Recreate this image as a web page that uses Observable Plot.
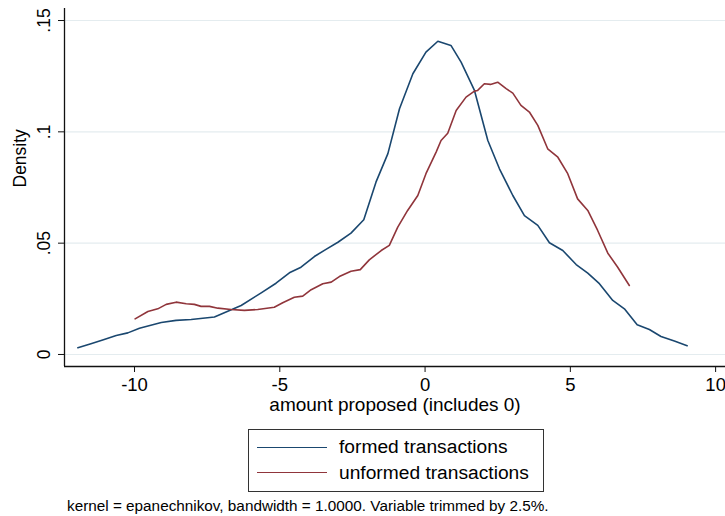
<!DOCTYPE html>
<html>
<head>
<meta charset="utf-8">
<script src="https://cdn.jsdelivr.net/npm/d3@7"></script>
<script src="https://cdn.jsdelivr.net/npm/@observablehq/plot@0.6"></script>
<style>
  body { margin: 0; background: #fff; font-family: "Liberation Sans", Arial, sans-serif; }
  #wrap { position: relative; width: 725px; height: 516px; overflow: hidden; }
  #chart svg { display: block; }
  .legend-box { position: absolute; box-sizing: border-box; border: 1px solid #333; background: #fff; }
  .legend-line { position: absolute; height: 0; border-top: 1.6px solid; }
  .legend-text { position: absolute; font-size: 19.2px; line-height: 1; color: #000; white-space: nowrap; }
  #caption { position: absolute; left: 67px; top: 498px; font-size: 15.3px; line-height: 1; color: #000; white-space: nowrap; }
</style>
</head>
<body>
<div id="wrap">
  <div id="chart"></div>
  <div id="legend"></div>
  <div id="caption"></div>
</div>
<script>
// Kernel density estimates of the amount proposed, by transaction outcome
const formedX = [-11.95, -11.50, -11.07, -10.63, -10.23, -9.83, -9.08, -8.57, -8.05, -7.25,
  -6.33, -5.64, -5.13, -4.67, -4.27, -3.81, -3.41, -3.00, -2.55, -2.11,
  -1.69, -1.28, -0.88, -0.42, 0.03, 0.44, 0.89, 1.24, 1.70, 2.16,
  2.56, 3.02, 3.42, 3.88, 4.28, 4.74, 5.20, 5.60, 6.00, 6.46,
  6.86, 7.30, 7.72, 8.12, 8.58, 9.02];
const formedY = [0.0030, 0.0048, 0.0066, 0.0085, 0.0097, 0.0118, 0.0144, 0.0153, 0.0157, 0.0168,
  0.0220, 0.0277, 0.0320, 0.0367, 0.0392, 0.0440, 0.0472, 0.0504, 0.0545, 0.0605,
  0.0774, 0.0902, 0.1104, 0.1261, 0.1358, 0.1407, 0.1388, 0.1313, 0.1186, 0.0961,
  0.0834, 0.0714, 0.0624, 0.0580, 0.0502, 0.0467, 0.0404, 0.0365, 0.0318, 0.0243,
  0.0205, 0.0133, 0.0112, 0.0081, 0.0060, 0.0039];

const unformedX = [-9.98, -9.54, -9.20, -8.91, -8.57, -8.22, -7.94, -7.71, -7.42, -7.13,
  -6.68, -6.22, -5.76, -5.19, -4.90, -4.50, -4.21, -3.92, -3.52, -3.23,
  -2.95, -2.55, -2.23, -1.92, -1.51, -1.23, -0.94, -0.60, -0.25, 0.03,
  0.38, 0.55, 0.78, 1.07, 1.41, 1.70, 1.81, 2.04, 2.25, 2.50,
  2.79, 3.02, 3.30, 3.59, 3.88, 4.22, 4.57, 4.91, 5.25, 5.60,
  5.94, 6.29, 6.63, 7.03];
const unformedY = [0.0160, 0.0193, 0.0205, 0.0225, 0.0235, 0.0228, 0.0225, 0.0216, 0.0216, 0.0208,
  0.0202, 0.0198, 0.0202, 0.0212, 0.0232, 0.0257, 0.0262, 0.0291, 0.0318, 0.0325,
  0.0350, 0.0374, 0.0381, 0.0425, 0.0467, 0.0490, 0.0572, 0.0647, 0.0714, 0.0812,
  0.0909, 0.0961, 0.0994, 0.1096, 0.1156, 0.1183, 0.1186, 0.1216, 0.1213, 0.1223,
  0.1194, 0.1174, 0.1119, 0.1089, 0.1029, 0.0924, 0.0886, 0.0812, 0.0699, 0.0647,
  0.0557, 0.0455, 0.0392, 0.0310];

const seriesNames = ["formed transactions", "unformed transactions"];
const seriesColors = ["#1a476f", "#90353b"];

const xTicks = [-10, -5, 0, 5, 10];
const yTicks = [0, 0.05, 0.1, 0.15];
const yTickLabels = ["0", ".05", ".1", ".15"];

const xTitle = "amount proposed (includes 0)";
const yTitle = "Density";
const captionText = "kernel = epanechnikov, bandwidth = 1.0000. Variable trimmed by 2.5%.";

const xDomain = [-12.41, 10.34];
const yDomain = [-0.0054, 0.1554];

const formed = formedX.map((x, i) => ({x, y: formedY[i]}));
const unformed = unformedX.map((x, i) => ({x, y: unformedY[i]}));

const chart = Plot.plot({
  width: 725,
  height: 422,
  marginLeft: 64,
  marginRight: 0,
  marginTop: 8,
  marginBottom: 56,
  style: {fontFamily: "'Liberation Sans', Arial, sans-serif", color: "#000", background: "#fff"},
  x: {domain: xDomain},
  y: {domain: yDomain},
  marks: [
    Plot.gridY(yTicks, {stroke: "#e4ecef", strokeOpacity: 1, strokeWidth: 1.2}),
    Plot.line(formed, {x: "x", y: "y", stroke: seriesColors[0], strokeWidth: 1.6}),
    Plot.line(unformed, {x: "x", y: "y", stroke: seriesColors[1], strokeWidth: 1.6}),
    Plot.ruleX([xDomain[0]], {stroke: "#111", strokeWidth: 1.3}),
    Plot.ruleY([yDomain[0]], {stroke: "#111", strokeWidth: 1.3}),
    Plot.axisX({ticks: xTicks, tickSize: 6, tickPadding: 5, fontSize: 18.5,
      tickFormat: d => String(d), label: null, stroke: "#111"}),
    Plot.axisY({ticks: yTicks, tickSize: 6, tickPadding: 9, fontSize: 17.5, tickRotate: -90,
      tickFormat: d => yTickLabels[yTicks.indexOf(d)], label: null, stroke: "#111"}),
    Plot.text([xTitle], {frameAnchor: "bottom", dy: 44, fontSize: 19, fill: "#000"}),
    Plot.text([yTitle], {frameAnchor: "left", dx: -44, rotate: -90, fontSize: 17.5, fill: "#000"})
  ]
});
document.getElementById("chart").appendChild(chart);

// Legend below the plot
const legend = document.getElementById("legend");
const box = document.createElement("div");
box.className = "legend-box";
Object.assign(box.style, {left: "248px", top: "429px", width: "296px", height: "63px"});
legend.appendChild(box);
const lineY = [448, 473];
const textBaseline = [453.5, 479.5];
seriesNames.forEach((name, i) => {
  const ln = document.createElement("div");
  ln.className = "legend-line";
  Object.assign(ln.style, {left: "257px", width: "70px", top: (lineY[i] - 0.8) + "px", borderTopColor: seriesColors[i]});
  legend.appendChild(ln);
  const tx = document.createElement("div");
  tx.className = "legend-text";
  tx.textContent = name;
  Object.assign(tx.style, {left: "339px", top: (textBaseline[i] - 16.3) + "px"});
  legend.appendChild(tx);
});

document.getElementById("caption").textContent = captionText;
</script>
</body>
</html>
